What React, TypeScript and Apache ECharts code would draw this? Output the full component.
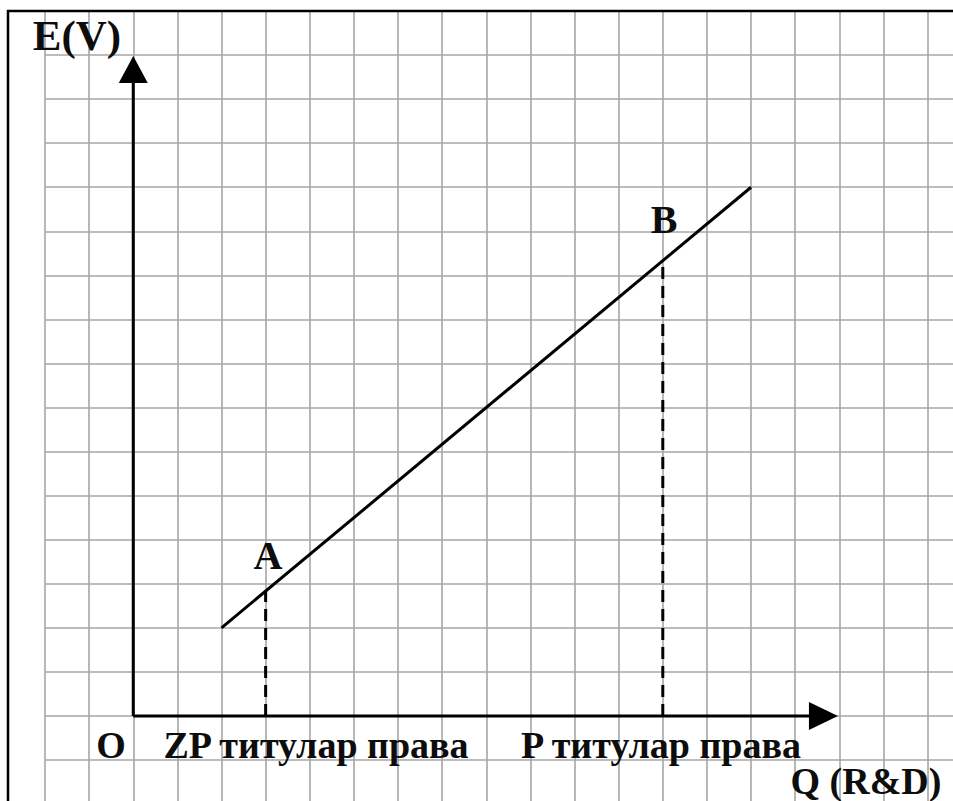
import React, { useEffect, useRef } from "react";
import * as echarts from "echarts";

// Axis ranges in grid cells (one cell = one unit)
const xRange = [-2, 19];
const yRange = [-2, 16];

// Main E(V) line
const valueLine = [
  [2, 2],
  [14, 12],
];
// Points A and B on the line, and their projections on the Q axis
const dropA = [
  [3, 0],
  [3, 2.83],
];
const dropB = [
  [12, 0],
  [12, 10.33],
];
// Axis arrows
const yAxisLine = [
  [0, 0],
  [0, 14.67],
];
const xAxisLine = [
  [0, 0],
  [15.64, 0],
];

const labelFont = "Liberation Serif";

export default function App() {
  const ref = useRef<HTMLDivElement>(null);

  useEffect(() => {
    document.body.style.margin = "0";
    document.body.style.overflow = "hidden";
    const chart = echarts.init(ref.current!, null, { renderer: "svg" });

    const txt = (
      text: string,
      x: number,
      y: number,
      size: number,
      scaleX = 1
    ) => ({
      type: "text",
      x,
      y,
      scaleX,
      z: 100,
      style: {
        text,
        fill: "#0d0d0d",
        font: `bold ${size}px "${labelFont}"`,
        align: "center",
        verticalAlign: "middle",
      },
    });

    const arrowEnd = (pt: number[], rotate: number, size: number[]) => ({
      value: pt,
      symbol: "triangle",
      symbolSize: size,
      symbolRotate: rotate,
    });

    chart.setOption({
      animation: false,
      backgroundColor: "#fff",
      grid: {
        left: 45,
        top: 11,
        width: 926.7,
        height: 793.1,
        containLabel: false,
      },
      xAxis: {
        type: "value",
        min: xRange[0],
        max: xRange[1],
        interval: 1,
        axisLine: { show: false },
        axisTick: { show: false },
        axisLabel: { show: false },
        splitLine: { show: true, lineStyle: { color: "#a6a6a6", width: 1.6 } },
      },
      yAxis: {
        type: "value",
        min: yRange[0],
        max: yRange[1],
        interval: 1,
        axisLine: { show: false },
        axisTick: { show: false },
        axisLabel: { show: false },
        splitLine: { show: true, lineStyle: { color: "#a6a6a6", width: 1.6 } },
      },
      series: [
        {
          type: "line",
          name: "E(V)",
          data: valueLine,
          symbol: "none",
          lineStyle: { color: "#000", width: 3 },
          z: 5,
        },
        {
          type: "line",
          name: "A",
          data: dropA,
          symbol: "none",
          lineStyle: { color: "#000", width: 3, type: [12, 7] },
          z: 4,
        },
        {
          type: "line",
          name: "B",
          data: dropB,
          symbol: "none",
          lineStyle: { color: "#000", width: 3, type: [12, 7] },
          z: 4,
        },
        {
          type: "line",
          name: "yaxis",
          data: [
            { value: yAxisLine[0], symbol: "none" },
            arrowEnd(yAxisLine[1], 0, [29, 27]),
          ],
          lineStyle: { color: "#000", width: 3 },
          itemStyle: { color: "#000" },
          z: 6,
        },
        {
          type: "line",
          name: "xaxis",
          data: [
            { value: xAxisLine[0], symbol: "none" },
            arrowEnd(xAxisLine[1], -90, [28, 29]),
          ],
          lineStyle: { color: "#000", width: 3 },
          itemStyle: { color: "#000" },
          z: 6,
        },
      ],
      graphic: [
        {
          type: "rect",
          shape: { x: 8, y: 11, width: 1000, height: 900 },
          style: { fill: "none", stroke: "#000", lineWidth: 2.5 },
          z: 50,
        },
        txt("E(V)", 77, 35, 43),
        txt("A", 268, 555, 40),
        txt("B", 664, 219, 40),
        txt("O", 111, 745, 38),
        txt("ZP титулар права", 316, 745, 38),
        txt("P титулар права", 661, 745, 38),
        txt("Q (R&D)", 866, 781, 38),
      ],
    });

    return () => chart.dispose();
  }, []);

  return (
    <div
      ref={ref}
      style={{
        position: "fixed",
        left: 0,
        top: 0,
        width: 1000,
        height: 850,
      }}
    />
  );
}
